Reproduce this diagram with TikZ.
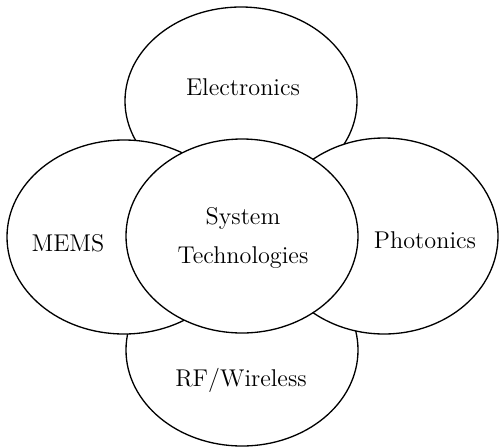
\documentclass[tikz,border=0pt]{standalone}
\usepackage{tikz}
\begin{document}
\begin{tikzpicture}[x=0.02cm,y=-0.02cm,line width=0.75pt]
      \tikzset{blob/.style={draw,fill=white},
        lbl/.style={font=\fontsize{13.8}{22}\selectfont,align=center}}
      \useasboundingbox (0,0) rectangle (500,447);
      % outer ring first, centre on top
      \filldraw[blob] (241,101) ellipse (116 and 94);
      \filldraw[blob] (242,350) ellipse (116 and 96);
      \filldraw[blob] (124,237) ellipse (117 and 97);
      \filldraw[blob] (384,236) ellipse (114 and 98);
      \filldraw[blob] (242,236) ellipse (116 and 97);
      \node[lbl] (elec) at (243,87) {Electronics};
      \node[lbl] (mems) at (68,243) {MEMS};
      \node[lbl] (phot) at (425,240) {Photonics};
      \node[lbl] (rfw) at (241,380) {RF/Wireless};
      \node[lbl] (sys) at (243,238) {System\\Technologies};
    \end{tikzpicture}
\end{document}
